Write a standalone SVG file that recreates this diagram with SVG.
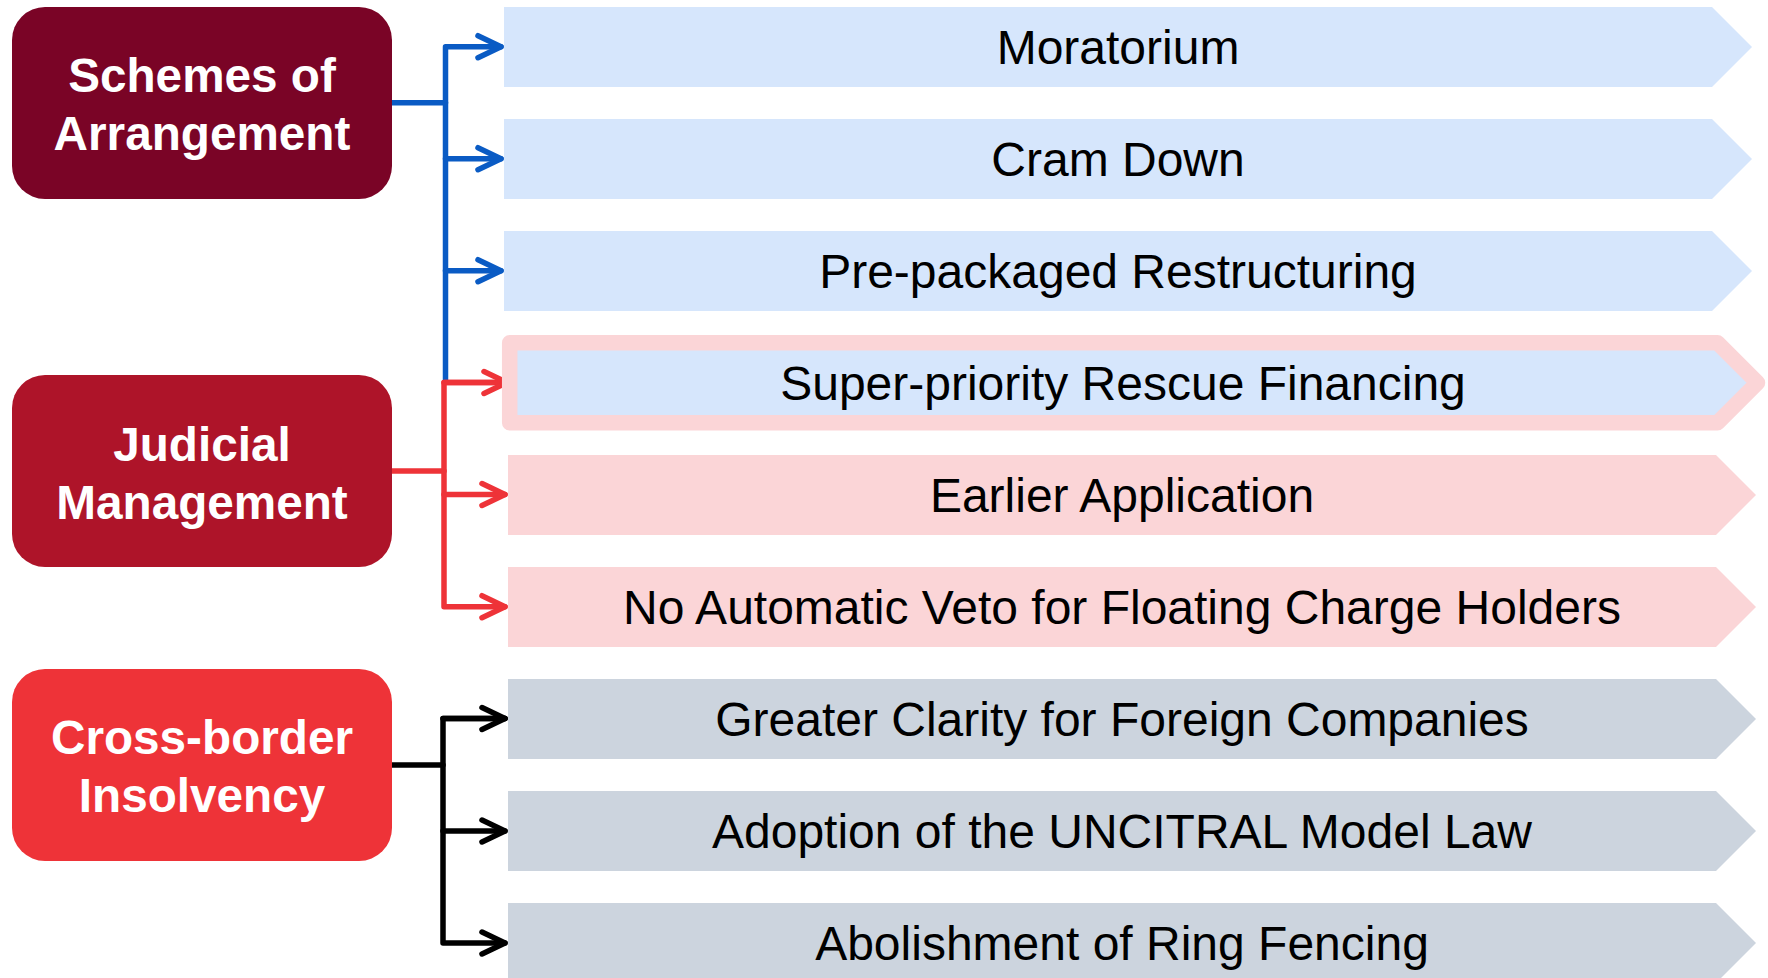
<svg xmlns="http://www.w3.org/2000/svg" width="1768" height="978" viewBox="0 0 1768 978">
  <style>
    .hdr { font-family: "Liberation Sans", Arial, sans-serif; font-weight: bold; font-size: 47.7px; fill: #ffffff; text-anchor: middle; }
    .lbl { font-family: "Liberation Sans", Arial, sans-serif; font-size: 48px; fill: #000000; text-anchor: middle; }
    .blue { fill: #D6E6FC; }
    .pink { fill: #FBD5D7; }
    .grey { fill: #CCD4DE; }
    .ln { fill: none; stroke-width: 5.5; stroke-linecap: round; stroke-linejoin: round; }
    .lb { stroke: #0A5BC4; }
    .lr { stroke: #EE3338; }
    .lk { stroke: #000000; }
  </style>
  <defs>
    <marker id="aBlue" markerUnits="userSpaceOnUse" markerWidth="40" markerHeight="40" refX="0" refY="0" orient="auto" overflow="visible">
      <path d="M-23,-11 L0,0 L-23,11" fill="none" stroke="#0A5BC4" stroke-width="5.5" stroke-linecap="round" stroke-linejoin="round"/>
    </marker>
    <marker id="aRed" markerUnits="userSpaceOnUse" markerWidth="40" markerHeight="40" refX="0" refY="0" orient="auto" overflow="visible">
      <path d="M-23,-11 L0,0 L-23,11" fill="none" stroke="#EE3338" stroke-width="5.5" stroke-linecap="round" stroke-linejoin="round"/>
    </marker>
    <marker id="aBlack" markerUnits="userSpaceOnUse" markerWidth="40" markerHeight="40" refX="0" refY="0" orient="auto" overflow="visible">
      <path d="M-23,-11 L0,0 L-23,11" fill="none" stroke="#000000" stroke-width="5.5" stroke-linecap="round" stroke-linejoin="round"/>
    </marker>
  </defs>

  <rect width="1768" height="978" fill="#ffffff"/>

  <g id="connectors">
    <path class="ln lb" d="M392,102.7 H445.5"/>
    <path class="ln lb" d="M445.5,381 V46.7 H501" marker-end="url(#aBlue)"/>
    <path class="ln lb" d="M445.5,158.7 H501" marker-end="url(#aBlue)"/>
    <path class="ln lb" d="M445.5,270.7 H501" marker-end="url(#aBlue)"/>

    <path class="ln lr" d="M392,471 H444"/>
    <path class="ln lr" d="M507,382.5 H444 V606.7 H505" marker-end="url(#aRed)"/>
    <path class="ln lr" d="M444,382.5 H507" marker-end="url(#aRed)"/>
    <path class="ln lr" d="M444,494.5 H505" marker-end="url(#aRed)"/>

    <path class="ln lk" d="M392,765 H443"/>
    <path class="ln lk" d="M505,718.5 H443 V943 H505" marker-end="url(#aBlack)"/>
    <path class="ln lk" d="M443,718.5 H505" marker-end="url(#aBlack)"/>
    <path class="ln lk" d="M443,831 H505" marker-end="url(#aBlack)"/>
  </g>

  <g id="node-schemes">
    <rect x="12" y="7" width="380" height="192" rx="33" ry="33" fill="#7A0426"/>
    <text class="hdr" x="202" y="92">Schemes of</text>
    <text class="hdr" x="202" y="150">Arrangement</text>
  </g>
  <g id="node-judicial">
    <rect x="12" y="375" width="380" height="192" rx="33" ry="33" fill="#AE1429"/>
    <text class="hdr" x="202" y="461">Judicial</text>
    <text class="hdr" x="202" y="519">Management</text>
  </g>
  <g id="node-crossborder">
    <rect x="12" y="669" width="380" height="192" rx="33" ry="33" fill="#EE3338"/>
    <text class="hdr" x="202" y="754">Cross-border</text>
    <text class="hdr" x="202" y="812">Insolvency</text>
  </g>

  <g id="node-moratorium">
    <path class="blue" d="M504,7 H1712 L1752,47 L1712,87 H504 Z"/>
    <text class="lbl" x="1118" y="64">Moratorium</text>
  </g>
  <g id="node-cramdown">
    <path class="blue" d="M504,119 H1712 L1752,159 L1712,199 H504 Z"/>
    <text class="lbl" x="1118" y="176">Cram Down</text>
  </g>
  <g id="node-prepack">
    <path class="blue" d="M504,231 H1712 L1752,271 L1712,311 H504 Z"/>
    <text class="lbl" x="1118" y="288">Pre-packaged Restructuring</text>
  </g>
  <g id="node-superpriority">
    <path d="M509.7,342.7 H1717.5 L1757.5,382.7 L1717.5,422.7 H509.7 Z" fill="#D6E6FC" stroke="#FBD5D7" stroke-width="15.5" stroke-linejoin="round"/>
    <text class="lbl" x="1123" y="400">Super-priority Rescue Financing</text>
  </g>
  <g id="node-earlier">
    <path class="pink" d="M508,455 H1716 L1756,495 L1716,535 H508 Z"/>
    <text class="lbl" x="1122" y="512">Earlier Application</text>
  </g>
  <g id="node-noveto">
    <path class="pink" d="M508,567 H1716 L1756,607 L1716,647 H508 Z"/>
    <text class="lbl" x="1122" y="624">No Automatic Veto for Floating Charge Holders</text>
  </g>
  <g id="node-clarity">
    <path class="grey" d="M508,679 H1716 L1756,719 L1716,759 H508 Z"/>
    <text class="lbl" x="1122" y="736">Greater Clarity for Foreign Companies</text>
  </g>
  <g id="node-uncitral">
    <path class="grey" d="M508,791 H1716 L1756,831 L1716,871 H508 Z"/>
    <text class="lbl" x="1122" y="848">Adoption of the UNCITRAL Model Law</text>
  </g>
  <g id="node-ringfencing">
    <path class="grey" d="M508,903 H1716 L1756,943 L1716,983 H508 Z"/>
    <text class="lbl" x="1122" y="960">Abolishment of Ring Fencing</text>
  </g>
</svg>
